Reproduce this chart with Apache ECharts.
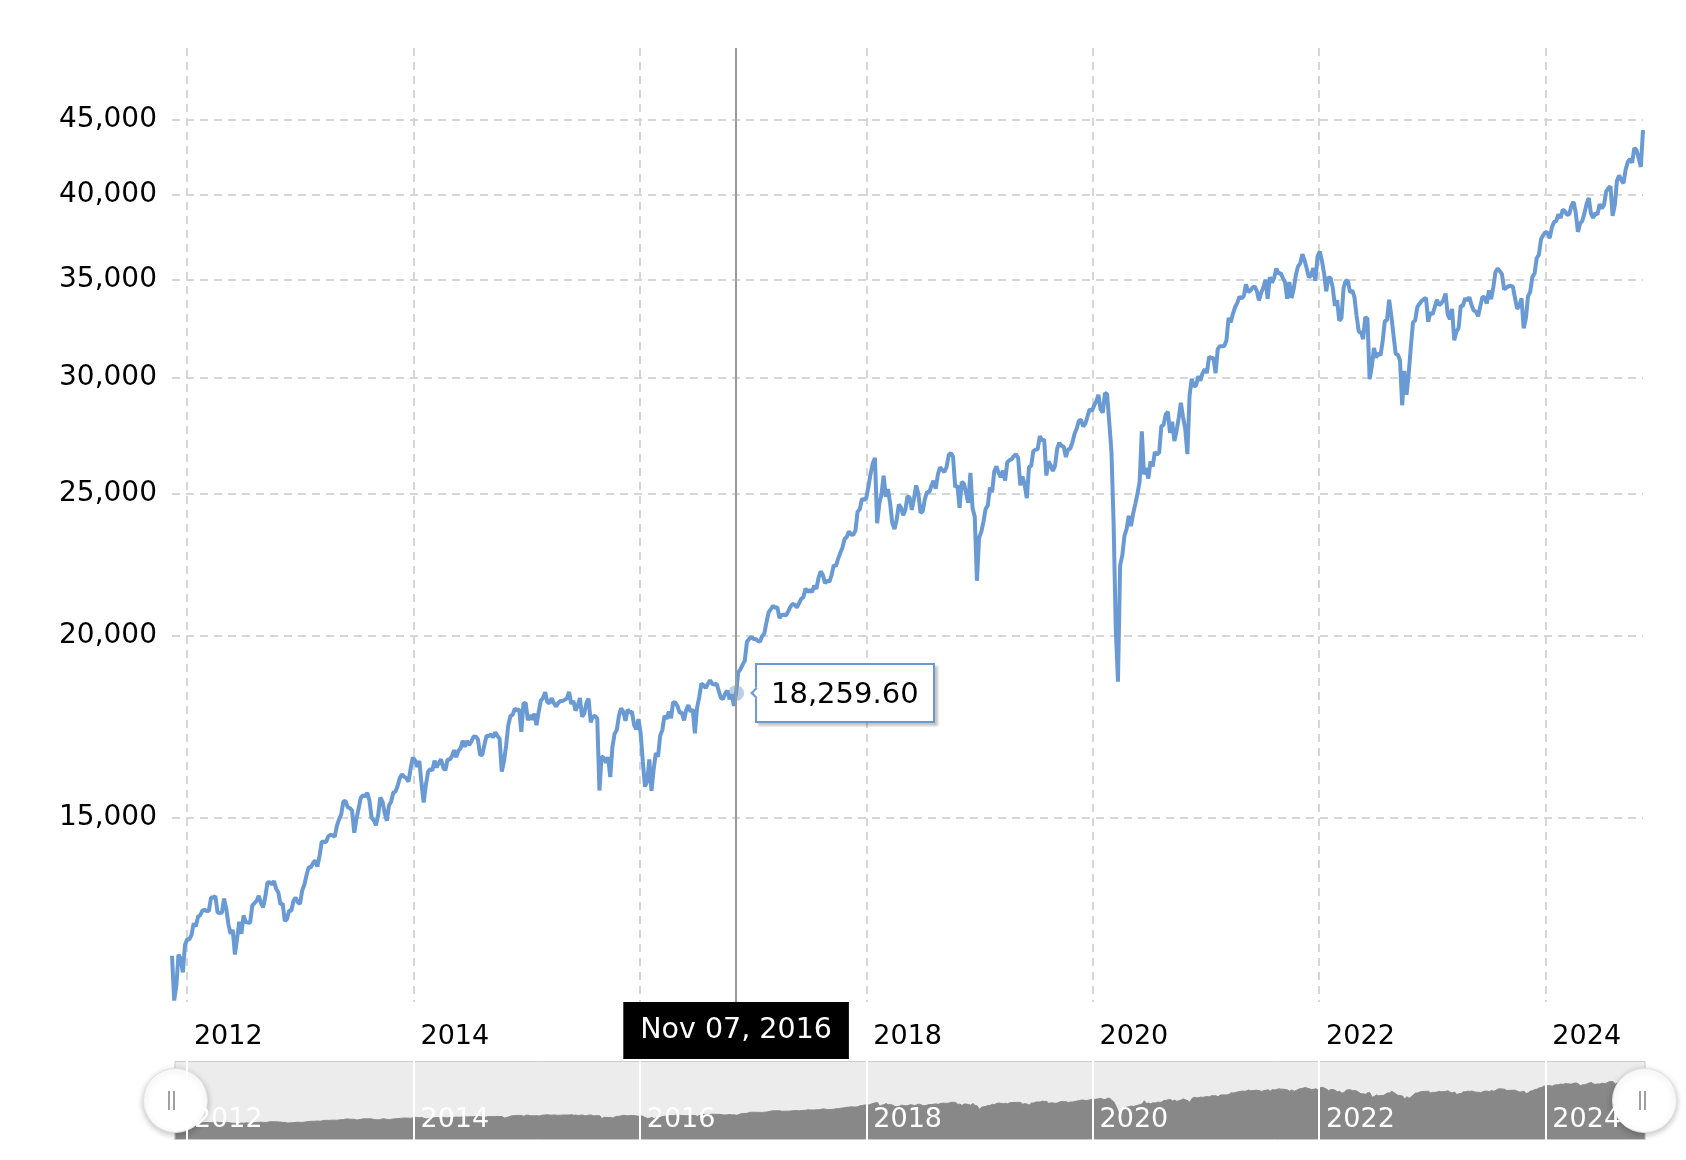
<!DOCTYPE html>
<html>
<head>
<meta charset="utf-8">
<title>Dow Jones - weekly</title>
<script src="https://cdn.jsdelivr.net/npm/echarts@6/dist/echarts.min.js"></script>
<style>
  html, body { margin: 0; padding: 0; background: #fff; }
  #chart { width: 1686px; height: 1160px; }
</style>
</head>
<body>
<div id="chart"></div>
<script>
// weekly closes, one per Monday (holiday -> next session), first Monday 2011-11-14
var firstMonday = Date.UTC(2011, 10, 14);

var close2011 = [12079, 11257, 11524, 12098, 12021, 11766, 12292];
var close2012 = [12397, 12392, 12482, 12709, 12654, 12845, 12874, 12966, 12982, 12962, 12960, 13239, 13241,
  13264, 12930, 12921, 12928, 13214, 13009, 12695, 12504, 12580, 12101, 12411, 12742, 12503,
  12871, 12736, 12727, 12722, 13074, 13118, 13170, 13272, 13124, 13036, 13254, 13553, 13559,
  13515, 13583, 13424, 13345, 13096, 13112, 12756, 12796, 12968, 12966, 13170, 13236, 13139, 13104];
var close2013 = [13384, 13507, 13712, 13882, 13880, 13971, 14036, 13900, 14128, 14450, 14453, 14448,
  14573, 14614, 14599, 14568, 14819, 14969, 15092, 15401, 15409, 15254, 15239, 15180, 14660,
  14975, 15225, 15485, 15546, 15521, 15612, 15420, 15011, 14947, 14834, 15063, 15495, 15401, 15130,
  14936, 15302, 15392, 15619, 15639, 15784, 15977, 16072, 16009, 15974, 15885, 16222, 16505];
var close2014 = [16426, 16257, 16414, 15838, 15373, 15801, 16130, 16207, 16168, 16419, 16248, 16367, 16458,
  16246, 16174, 16449, 16448, 16531, 16696, 16511, 16676, 16744, 16944, 16782, 16938, 16827,
  16925, 17056, 17052, 16983, 16570, 16569, 16839, 17077, 17068, 17112, 17032, 17173, 17071,
  16992, 16142, 16400, 16818, 17367, 17614, 17648, 17818, 17777, 17801, 17180, 17959, 17984];
var close2015 = [17501, 17640, 17515, 17679, 17362, 17729, 18047, 18117, 18289, 17996, 17978, 18116, 17976,
  17881, 17977, 18034, 18038, 18071, 18106, 18299, 17953, 18041, 17766, 17905, 18120, 17597,
  17684, 17978, 18101, 17441, 17599, 17615, 17546, 15666, 16528, 16492, 16371, 16511, 16001,
  16777, 17131, 17230, 17624, 17829, 17731, 17484, 17793, 17719, 17731, 17368, 17252, 17529];
var close2016 = [17149, 16399, 15766, 15885, 16450, 15660, 16196, 16620, 16517, 17074, 17229, 17623, 17536,
  17737, 17556, 18004, 17990, 17891, 17705, 17710, 17492, 17787, 17920, 17733, 17805, 17140,
  17841, 18147, 18534, 18493, 18404, 18529, 18637, 18530, 18503, 18539, 18325, 18121, 18095,
  18254, 18329, 18087, 18224, 17900, 18259.60, 18869, 18957, 19098, 19217, 19797, 19884, 19946];
var close2017 = [19882, 19887, 19826, 19799, 19971, 20053, 20412, 20744, 20838, 20955, 20881, 20906, 20550,
  20651, 20658, 20636, 20763, 20913, 21013, 20982, 20894, 21029, 21184, 21236, 21529, 21409,
  21479, 21409, 21630, 21513, 21891, 22118, 21994, 21704, 21809, 21753, 21988, 22332, 22297,
  22557, 22762, 22957, 23274, 23349, 23549, 23440, 23431, 23581, 24291, 24387, 24792, 24746];
var close2018 = [24825, 25283, 25793, 26215, 26440, 23860, 24601, 24964, 25710, 24874, 25179, 24611, 23858,
  23644, 23979, 24573, 24449, 24164, 24358, 24900, 24835, 24362, 24814, 25322, 24988, 24253,
  24307, 24777, 25065, 25045, 25307, 25503, 25188, 25759, 26050, 25953, 25858, 26063, 26563,
  26652, 26487, 25251, 25318, 24443, 25462, 25387, 25017, 24640, 25827, 24423, 24100, 21792, 23327];
var close2019 = [23531, 23910, 24404, 24528, 25239, 25053, 25891, 26092, 25820, 25651, 25914, 25517,
  26259, 26342, 26385, 26512, 26593, 26439, 25325, 25680, 25348, 24820, 26063, 26113, 26727,
  26787, 26807, 27360, 27172, 27222, 25718, 26288, 26136, 25899, 26118, 26836, 27077, 26950, 26917,
  26478, 26788, 26828, 27091, 27462, 27692, 28036, 28067, 27784, 27910, 28235, 28551, 28462];
var close2020 = [28704, 28907, 29197, 28536, 28400, 29277, 29233, 27961, 26703, 23851, 20189, 18592, 22327,
  22680, 23390, 23650, 24134, 23750, 24222, 24597, 24995, 25475, 27572, 25763, 26025, 25596,
  26287, 26086, 26681, 26584, 26664, 27791, 27845, 28308, 28430, 27501, 27993, 27148, 27584,
  28149, 28838, 28195, 27686, 26600, 29158, 29950, 29592, 29639, 30070, 29862, 30216, 30404];
var close2021 = [30224, 31009, 30930, 30960, 30212, 31386, 31523, 31522, 31536, 31802, 32953, 32732, 33171,
  33527, 33746, 34078, 33982, 34113, 34743, 34327, 34394, 34575, 34630, 34393, 33877, 34292,
  34577, 34996, 33962, 35145, 34838, 35102, 35626, 35336, 35361, 35100, 34870, 33970, 34870,
  34003, 34496, 35259, 35742, 35913, 36432, 36088, 35620, 35136, 35227, 35651, 34933, 36303];
var close2022 = [36585, 36069, 35369, 34365, 35132, 35092, 34567, 33597, 33893, 32818, 32946, 34553, 34955,
  34922, 34309, 34412, 34049, 33061, 32246, 32224, 31880, 32990, 32916, 29930, 30530, 31439,
  30968, 31173, 31072, 31762, 32799, 32833, 33912, 33063, 32099, 31146, 31105, 30822, 28725,
  30317, 29202, 30186, 31500, 32733, 32827, 33537, 33700, 33850, 33947, 34005, 32757, 33241];
var close2023 = [33136, 33518, 33911, 33630, 33718, 33891, 34246, 33130, 32890, 33432, 31820, 32245, 32432,
  33601, 33587, 33988, 33875, 34051, 33619, 33348, 33287, 33043, 33563, 34066, 34054, 33714,
  34418, 33944, 34585, 35411, 35630, 35473, 35307, 34463, 34559, 34642, 34664, 34625, 34007,
  33433, 33604, 33985, 32420, 32929, 34096, 34337, 35151, 35333, 36204, 36405, 37306, 37545];
var close2024 = [37715, 37683, 37361, 38002, 38333, 38380, 38797, 38564, 39069, 38990, 38770, 38790, 39314,
  39567, 38893, 37735, 38240, 38386, 38852, 39432, 39807, 38853, 38571, 38868, 38778, 39411,
  39170, 39344, 40212, 40415, 40540, 38703, 39357, 40897, 41241, 40937, 40737, 41622, 42125, 42330,
  42081, 43065, 42932, 42387, 41795, 44293];

var yTicks = [15000, 20000, 25000, 30000, 35000, 40000, 45000];
var yearTicks = [2012, 2014, 2016, 2018, 2020, 2022, 2024];
var yMin = 11231, yMax = 50400;
var pickDay = Date.UTC(2016, 10, 7);
var monthNames = ['Jan', 'Feb', 'Mar', 'Apr', 'May', 'Jun', 'Jul', 'Aug', 'Sep', 'Oct', 'Nov', 'Dec'];

var closes = [].concat(close2011, close2012, close2013, close2014, close2015, close2016, close2017,
  close2018, close2019, close2020, close2021, close2022, close2023, close2024);

var WEEK = 7 * 24 * 3600 * 1000;
var points = closes.map(function (v, i) { return [firstMonday + i * WEEK, v]; });
var t0 = points[0][0], t1 = points[points.length - 1][0];
var pickIndex = points.findIndex(function (p) { return p[0] === pickDay; });
var yearStamps = yearTicks.map(function (y) { return Date.UTC(y, 0, 1); });

var font = 'DejaVu Sans, Verdana, sans-serif';
var lineColor = '#6a9ad3';

function yearFmt(v) { return String(new Date(v).getUTCFullYear()); }
function numFmt(v) { return Math.round(v).toLocaleString('en-US'); }
function priceFmt(v) { return v.toLocaleString('en-US', { minimumFractionDigits: 2, maximumFractionDigits: 2 }); }
function dayFmt(v) {
  var d = new Date(v);
  var dd = d.getUTCDate();
  return monthNames[d.getUTCMonth()] + ' ' + (dd < 10 ? '0' + dd : dd) + ', ' + d.getUTCFullYear();
}

var chart = echarts.init(document.getElementById('chart'));

var shadowLine = { color: '#888888', width: 1, opacity: 1 };
var shadowArea = { color: '#888888', opacity: 1 };

chart.setOption({
  animation: false,
  grid: [
    { left: 172, right: 43, top: 48, bottom: 158 },
    { left: 172, right: 43, top: 1061, height: 79 }
  ],
  xAxis: [{
    type: 'value',
    min: t0,
    max: t1,
    axisLine: { show: false },
    axisTick: { show: false, customValues: yearStamps },
    axisLabel: {
      customValues: yearStamps,
      formatter: yearFmt,
      align: 'left',
      padding: [0, 0, 0, 7],
      margin: 21,
      color: '#000',
      fontSize: 27,
      fontFamily: font
    },
    splitLine: { show: true, lineStyle: { color: '#d6d6d6', width: 2, type: [8, 6] } },
    axisPointer: {
      show: true,
      type: 'line',
      value: pickDay,
      status: 'show',
      snap: false,
      triggerTooltip: false,
      lineStyle: { color: '#999999', width: 2, type: 'solid' },
      label: {
        show: true,
        backgroundColor: '#000',
        color: '#fff',
        fontSize: 28.5,
        fontFamily: font,
        padding: [14, 17],
        margin: 0,
        borderRadius: 0,
        shadowBlur: 0,
        formatter: function (p) { return dayFmt(p.value); }
      }
    }
  }, {
    type: 'value',
    gridIndex: 1,
    min: t0,
    max: t1,
    z: 10,
    axisLine: { show: false },
    axisTick: { show: false, customValues: yearStamps },
    axisLabel: {
      inside: true,
      customValues: yearStamps,
      formatter: yearFmt,
      align: 'left',
      padding: [0, 0, 0, 7],
      margin: 7,
      color: '#fff',
      fontSize: 27,
      fontFamily: font
    },
    splitLine: { show: true, lineStyle: { color: '#ffffff', width: 2 } }
  }],
  yAxis: [{
    type: 'log',
    logBase: 10,
    min: yMin,
    max: yMax,
    axisLine: { show: false },
    axisTick: { show: false, customValues: yTicks },
    axisLabel: {
      customValues: yTicks,
      formatter: numFmt,
      margin: 15,
      color: '#000',
      fontSize: 28,
      fontFamily: font
    },
    splitLine: { show: true, lineStyle: { color: '#d6d6d6', width: 2, type: [8, 6] } },
    axisPointer: { show: false }
  }, {
    type: 'value',
    gridIndex: 1,
    show: false
  }],
  dataZoom: [{
    type: 'slider',
    xAxisIndex: 0,
    start: 0,
    end: 100,
    left: 172,
    right: 43,
    top: 1061,
    height: 79,
    z: 2,
    backgroundColor: '#ececec',
    borderColor: '#cccccc',
    borderRadius: 0,
    fillerColor: 'rgba(0,0,0,0)',
    showDetail: false,
    brushSelect: false,
    moveHandleSize: 0,
    moveHandleStyle: { opacity: 0 },
    handleIcon: 'circle',
    handleSize: 64,
    handleStyle: {
      color: '#ffffff',
      borderColor: '#e2e2e2',
      borderWidth: 1,
      shadowBlur: 6,
      shadowOffsetY: 2,
      shadowColor: 'rgba(0,0,0,0.25)'
    },
    dataBackground: { lineStyle: shadowLine, areaStyle: shadowArea },
    selectedDataBackground: { lineStyle: shadowLine, areaStyle: shadowArea },
    emphasis: { moveHandleStyle: { opacity: 0 } }
  }],
  tooltip: {
    trigger: 'item',
    triggerOn: 'none',
    alwaysShowContent: true,
    position: 'right',
    backgroundColor: '#ffffff',
    borderColor: lineColor,
    borderWidth: 2,
    borderRadius: 0,
    padding: [6, 14],
    textStyle: { color: '#000', fontSize: 29, fontFamily: font },
    extraCssText: 'box-shadow: 3px 3px 2px rgba(0,0,0,0.22);',
    formatter: function (p) { return priceFmt(p.value[1]); }
  },
  graphic: [
    { type: 'rect', z: 100, shape: { x: 168, y: 1091, width: 2, height: 19 }, style: { fill: '#a0a0a0' } },
    { type: 'rect', z: 100, shape: { x: 173, y: 1091, width: 2, height: 19 }, style: { fill: '#a0a0a0' } },
    { type: 'rect', z: 100, shape: { x: 1639, y: 1091, width: 2, height: 19 }, style: { fill: '#a0a0a0' } },
    { type: 'rect', z: 100, shape: { x: 1644, y: 1091, width: 2, height: 19 }, style: { fill: '#a0a0a0' } }
  ],
  series: [{
    type: 'line',
    data: points,
    showSymbol: false,
    symbol: 'none',
    silent: true,
    lineStyle: { color: lineColor, width: 4 },
    itemStyle: { color: lineColor },
    tooltip: { show: false },
    z: 3
  }, {
    type: 'scatter',
    data: [points[pickIndex]],
    symbolSize: 16,
    itemStyle: { color: 'rgba(106,154,211,0.6)' },
    z: 4
  }]
});

chart.dispatchAction({ type: 'showTip', seriesIndex: 1, dataIndex: 0 });
</script>
</body>
</html>
